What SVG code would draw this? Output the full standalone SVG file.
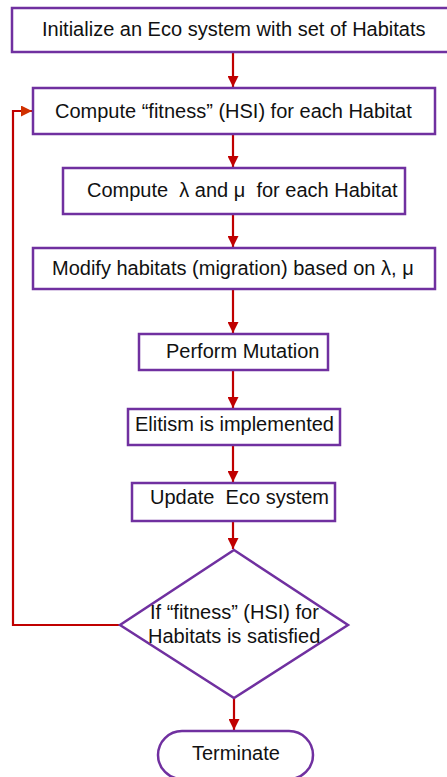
<svg xmlns="http://www.w3.org/2000/svg" width="447" height="777" viewBox="0 0 447 777">
<style>
.box{fill:#fff;stroke:#7030a0;stroke-width:2.5}
.lbl{font-family:"Liberation Sans",Arial,sans-serif;font-size:20px;fill:#111}
.con{fill:none;stroke:#c00000;stroke-width:2.2}
</style>
<defs>
<marker id="ah" viewBox="0 0 10 10" refX="10" refY="5" markerWidth="5" markerHeight="5" orient="auto" markerUnits="strokeWidth">
<path d="M0,0 L10,5 L0,10 Z" fill="#c00000"/>
</marker>
<marker id="ah2" viewBox="0 0 10 10" refX="10" refY="5" markerWidth="5" markerHeight="5" orient="auto" markerUnits="strokeWidth">
<path d="M0,0 L10,5 L0,10 Z" fill="#d03000"/>
</marker>
</defs>
<rect width="447" height="777" fill="#fff"/>
<g id="connectors">
<path class="con" d="M233,52 L233,87" marker-end="url(#ah)"/>
<path class="con" d="M233,134 L233,167" marker-end="url(#ah)"/>
<path class="con" d="M233,214 L233,247" marker-end="url(#ah)"/>
<path class="con" d="M233,289 L233,333" marker-end="url(#ah)"/>
<path class="con" d="M233,370 L233,408" marker-end="url(#ah)"/>
<path class="con" d="M233,445 L233,482" marker-end="url(#ah)"/>
<path class="con" d="M233,521 L233,549" marker-end="url(#ah)"/>
<path class="con" d="M234,698 L234,730" marker-end="url(#ah)"/>
<path class="con" d="M120,625 L13,625 L13,111 L32,111" marker-end="url(#ah2)"/>
</g>
<g id="n1"><rect class="box" x="12" y="8" width="437" height="44"/><text class="lbl" x="42" y="36">Initialize an Eco system with set of Habitats</text></g>
<g id="n2"><rect class="box" x="33" y="88" width="402" height="46"/><text class="lbl" x="55" y="118">Compute “fitness” (HSI) for each Habitat</text></g>
<g id="n3"><rect class="box" x="63" y="168" width="342" height="46"/><text class="lbl" x="87" y="197" xml:space="preserve">Compute  λ and μ  for each Habitat</text></g>
<g id="n4"><rect class="box" x="33" y="248" width="402" height="41"/><text class="lbl" x="52" y="275">Modify habitats (migration) based on λ, μ</text></g>
<g id="n5"><rect class="box" x="139" y="334" width="189" height="36"/><text class="lbl" x="166" y="358">Perform Mutation</text></g>
<g id="n6"><rect class="box" x="128" y="409" width="212" height="36"/><text class="lbl" x="135" y="431">Elitism is implemented</text></g>
<g id="n7"><rect class="box" x="132" y="483" width="203" height="38"/><text class="lbl" x="150" y="504" xml:space="preserve">Update  Eco system</text></g>
<g id="n8"><path class="box" d="M234,550 L348,625 L234,698 L120,625 Z"/><text class="lbl" x="150" y="619">If “fitness” (HSI) for</text><text class="lbl" x="148" y="643">Habitats is satisfied</text></g>
<g id="n9"><rect class="box" x="158" y="731" width="155" height="48" rx="24"/><text class="lbl" x="192" y="760">Terminate</text></g>
</svg>
